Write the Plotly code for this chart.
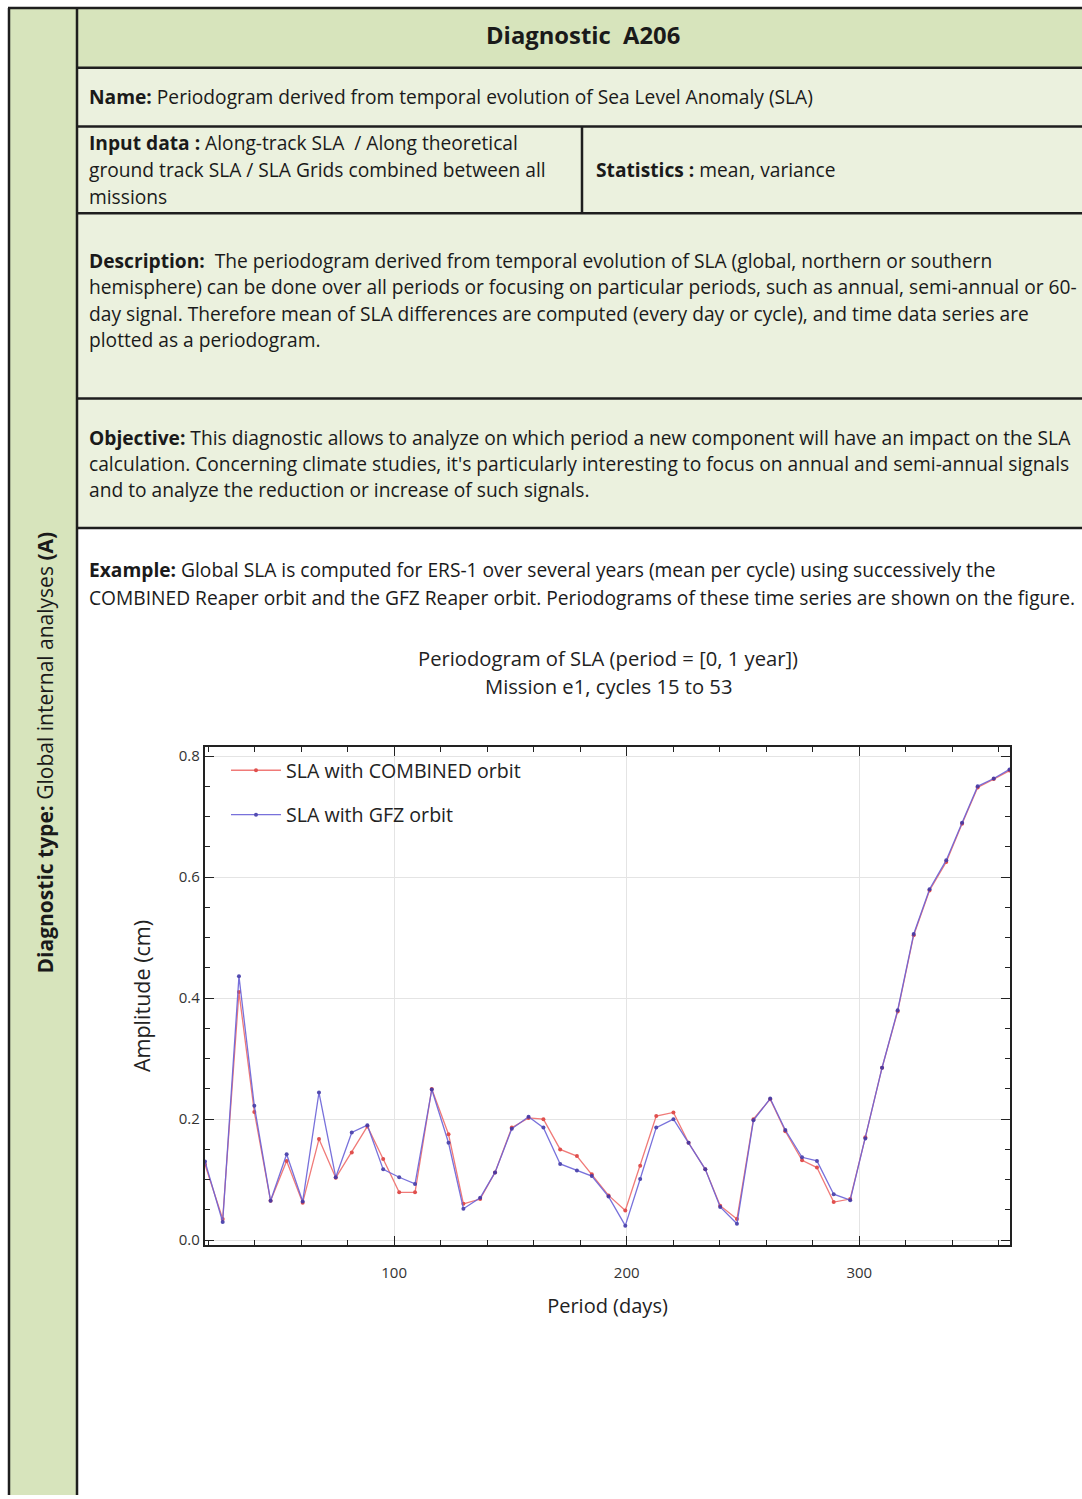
import plotly.graph_objects as go

W, H = 1082, 1499

# ---------------- data ----------------
period_days = [18.7, 26.3, 33.3, 39.9, 46.9, 53.8, 60.7, 67.7, 74.9, 81.8,
               88.5, 95.3, 102.2, 109.0, 116.2, 123.4, 129.8, 137.0, 143.4, 150.6,
               157.8, 164.2, 171.4, 178.6, 185.0, 192.2, 199.4, 205.8, 212.7, 220.1,
               226.6, 233.8, 240.2, 247.4, 254.5, 261.7, 268.2, 275.4, 281.8, 289.0,
               296.1, 302.6, 309.8, 316.5, 323.4, 330.2, 337.4, 344.2, 350.9, 357.8,
               364.6]
sla_combined = [0.125, 0.035, 0.410, 0.212, 0.065, 0.131, 0.062, 0.167, 0.103, 0.145,
                0.188, 0.134, 0.079, 0.079, 0.250, 0.175, 0.060, 0.068, 0.112, 0.186,
                0.202, 0.200, 0.150, 0.139, 0.109, 0.074, 0.049, 0.123, 0.205, 0.211,
                0.161, 0.117, 0.057, 0.035, 0.200, 0.233, 0.180, 0.132, 0.120, 0.063,
                0.068, 0.170, 0.285, 0.378, 0.504, 0.578, 0.625, 0.688, 0.748, 0.762,
                0.776]
sla_gfz = [0.130, 0.030, 0.436, 0.222, 0.065, 0.142, 0.064, 0.244, 0.104, 0.178,
           0.190, 0.117, 0.104, 0.093, 0.249, 0.161, 0.052, 0.070, 0.112, 0.184,
           0.204, 0.186, 0.126, 0.115, 0.106, 0.072, 0.024, 0.101, 0.186, 0.200,
           0.161, 0.117, 0.055, 0.027, 0.198, 0.234, 0.182, 0.137, 0.131, 0.076,
           0.066, 0.168, 0.285, 0.380, 0.506, 0.580, 0.628, 0.690, 0.750, 0.763,
           0.778]
series_names = ["SLA with COMBINED orbit", "SLA with GFZ orbit"]
x_tick_vals = [100, 200, 300]
y_tick_vals = [0.0, 0.2, 0.4, 0.6, 0.8]

# ---------------- helpers ----------------
def px(x):
    return x / W

def py(y):
    return 1 - y / H

GREEN = "#d7e4bc"
LIGHT = "#ebf1de"
LINE = "#1e1e1e"
TXT = "#1a1a1a"
FONT = "Open Sans"

fig = go.Figure()

fig.add_trace(go.Scatter(
    x=period_days, y=sla_combined, mode="lines+markers", name=series_names[0],
    line=dict(color="#f07a78", width=1.3), marker=dict(size=4, color="#e0504e"),
    legendgroup="a"))
fig.add_trace(go.Scatter(
    x=period_days, y=sla_gfz, mode="lines+markers", name=series_names[1],
    line=dict(color="#6a62d8", width=1.3), marker=dict(size=4, color="#4038a8"),
    opacity=0.9, legendgroup="b"))

shapes = []

def rect(x0, y0, x1, y1, fill):
    shapes.append(dict(type="rect", xref="paper", yref="paper",
                       x0=px(x0), x1=px(x1), y0=py(y1), y1=py(y0),
                       fillcolor=fill, line=dict(width=0), layer="below"))

def hline(x0, x1, y, w=2.5):
    shapes.append(dict(type="line", xref="paper", yref="paper",
                       x0=px(x0), x1=px(x1), y0=py(y), y1=py(y),
                       line=dict(color=LINE, width=w), layer="above"))

def vline(x, y0, y1, w=2.5):
    shapes.append(dict(type="line", xref="paper", yref="paper",
                       x0=px(x), x1=px(x), y0=py(y0), y1=py(y1),
                       line=dict(color=LINE, width=w), layer="above"))

# backgrounds
rect(9, 6, 77, H, GREEN)
rect(77, 6, W, 66, GREEN)
rect(77, 66, W, 528, LIGHT)

# borders
hline(8, W, 6)
hline(77, W, 66)
hline(77, W, 125)
hline(77, W, 212)
hline(77, W, 398)
hline(77, W, 528)
vline(9, 6, H)
vline(77, 6, H)
vline(582, 125, 212)

annotations = []
BODY = 19.2
DY = -1.5

def text(x, y, s, size=BODY, anchor="left", color=TXT, angle=0, family=FONT):
    annotations.append(dict(xref="paper", yref="paper", x=px(x), y=py(y + DY),
                            text=s, showarrow=False, xanchor=anchor, yanchor="middle",
                            textangle=angle,
                            font=dict(family=family, size=size, color=color)))

text(583, 35, "<b>Diagnostic  A206</b>", size=23.8, anchor="center")
text(87, 96, "<b>Name:</b> Periodogram derived from temporal evolution of Sea Level Anomaly (SLA)")
text(87, 143, "<b>Input data :</b> Along-track SLA  / Along theoretical")
text(87, 170, "ground track SLA / SLA Grids combined between all")
text(87, 197, "missions")
text(594, 170, "<b>Statistics :</b> mean, variance")

desc = ["<b>Description:</b>  The periodogram derived from temporal evolution of SLA (global, northern or southern",
        "hemisphere) can be done over all periods or focusing on particular periods, such as annual, semi-annual or 60-",
        "day signal. Therefore mean of SLA differences are computed (every day or cycle), and time data series are",
        "plotted as a periodogram."]
for i, s in enumerate(desc):
    text(87, 261 + i * 26.5, s)

obj = ["<b>Objective:</b> This diagnostic allows to analyze on which period a new component will have an impact on the SLA",
       "calculation. Concerning climate studies, it's particularly interesting to focus on annual and semi-annual signals",
       "and to analyze the reduction or increase of such signals."]
for i, s in enumerate(obj):
    text(87, 439 + i * 26, s)

ex = ["<b>Example:</b> Global SLA is computed for ERS-1 over several years (mean per cycle) using successively the",
      "COMBINED Reaper orbit and the GFZ Reaper orbit. Periodograms of these time series are shown on the figure."]
for i, s in enumerate(ex):
    text(87, 571 + i * 28, s)

text(45, 755, "<b>Diagnostic type:</b> Global internal analyses <b>(A)</b>", size=21, anchor="center", angle=-90)

# chart titles
text(608, 660, "Periodogram of SLA (period = [0, 1 year])", size=20.2, anchor="center", color="#222")
text(608, 688, "Mission e1, cycles 15 to 53", size=20.2, anchor="center", color="#222")

fig.update_layout(
    width=W, height=H, margin=dict(l=0, r=0, t=0, b=0),
    paper_bgcolor="white", plot_bgcolor="white",
    shapes=shapes, annotations=annotations,
    showlegend=True,
    legend=dict(x=px(226), y=py(752), xanchor="left", yanchor="top",
                bgcolor="rgba(0,0,0,0)", font=dict(family=FONT, size=19.6, color="#222"),
                traceorder="grouped", tracegroupgap=16, itemwidth=50),
    xaxis=dict(domain=[px(205), px(1010)], range=[18.7, 364.8],
               tickvals=x_tick_vals, ticks="inside", ticklen=9, tickwidth=1.3, tickcolor="#222",
               mirror="allticks", showline=True, linewidth=2.2, linecolor="#222",
               showgrid=True, gridcolor="#e4e4e4", gridwidth=1, zeroline=False,
               minor=dict(dtick=20, tick0=0, ticks="inside", ticklen=5, tickcolor="#222", showgrid=False),
               tickfont=dict(family=FONT, size=15, color="#333"), ticklabelstandoff=13,
               title=dict(text="Period (days)", font=dict(family=FONT, size=20, color="#222"), standoff=18)),
    yaxis=dict(domain=[py(1248), py(748)], range=[-0.008, 0.815],
               tickvals=y_tick_vals, tickformat=".1f", ticks="inside", ticklen=9, tickwidth=1.3, tickcolor="#222",
               mirror="allticks", showline=True, linewidth=2.2, linecolor="#222",
               showgrid=True, gridcolor="#e4e4e4", gridwidth=1, zeroline=False,
               minor=dict(dtick=0.05, tick0=0, ticks="inside", ticklen=5, tickcolor="#222", showgrid=False),
               tickfont=dict(family=FONT, size=15, color="#333"),
               title=dict(text="Amplitude (cm)", font=dict(family=FONT, size=21.5, color="#222"), standoff=22)),
)

fig.write_html("out.html")
